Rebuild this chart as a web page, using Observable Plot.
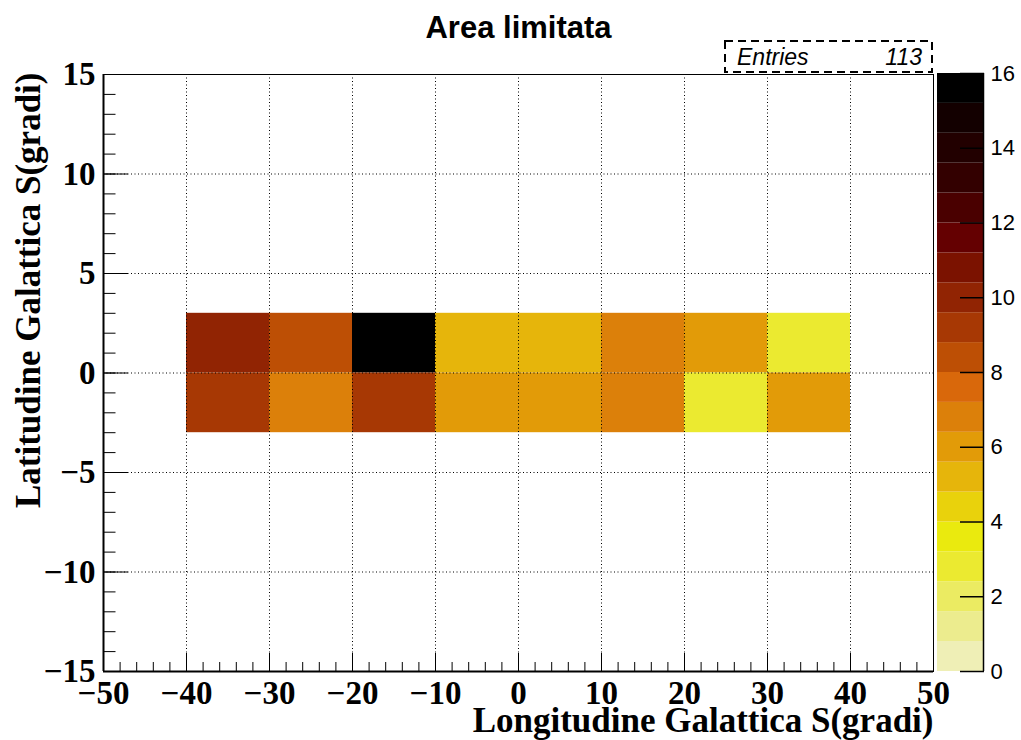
<!DOCTYPE html>
<html><head><meta charset="utf-8">
<script src="https://cdn.jsdelivr.net/npm/d3@7"></script>
<script src="https://cdn.jsdelivr.net/npm/@observablehq/plot@0.6"></script>
<style>
body{margin:0;background:#fff;}
#wrap{position:relative;width:1021px;height:740px;overflow:hidden;background:#fff;}
#wrap svg{position:absolute;top:0;}
</style></head><body><div id="wrap"></div>
<script>
// ---- data ----
const title = "Area limitata";
const xTitle = "Longitudine Galattica S(gradi)";
const yTitle = "Latitudine Galattica S(gradi)";
const xDomain = [-50, 50];
const yDomain = [-15, 15];
const xBinStarts = [-40, -30, -20, -10, 0, 10, 20, 30];
const xBinWidth = 10;
const upperRow = [0, 3];   // latitude bin [0,3]
const lowerRow = [-3, 0];  // latitude bin [-3,0]
const countsUpper = [10, 8, 16, 5, 5, 7, 6, 3];
const countsLower = [9, 7, 9, 6, 6, 7, 3, 6];
const entries = 113;
const xTicks = [-50, -40, -30, -20, -10, 0, 10, 20, 30, 40, 50];
const xMinorTicks = d3.range(-50, 51, 2);
const yTicks = [-15, -10, -5, 0, 5, 10, 15];
const yMinorTicks = d3.range(-15, 16, 1);
const zMax = 16;
const zLevels = d3.range(1, 20).map(i => i * zMax / 20);
const zTicks = [0, 2, 4, 6, 8, 10, 12, 14, 16];
const palette = ["#efefb6","#ecec8e","#ebeb62","#ebea30","#eaea0e","#e9d20c","#e6b50b","#e29b08",
  "#dc800a","#d9680b","#bd4f05","#a73804","#912403","#7b1200","#640001","#4a0000","#330000","#220000","#130000","#000000"];

// ---- build ----
const cells = [];
xBinStarts.forEach((x0, i) => {
  cells.push({x1: x0, x2: x0 + xBinWidth, y1: upperRow[0], y2: upperRow[1], n: countsUpper[i]});
  cells.push({x1: x0, x2: x0 + xBinWidth, y1: lowerRow[0], y2: lowerRow[1], n: countsLower[i]});
});
const edges = [0, ...zLevels, zMax];
const bands = d3.range(20).map(i => ({lo: edges[i], hi: edges[i + 1], mid: (edges[i] + edges[i + 1]) / 2}));
const colorScale = {type: "threshold", domain: zLevels, range: palette};
const serifTick = {fontSize: 33, fontWeight: "bold", fontFamily: "Liberation Serif"};
const serifTitle = {fontSize: 35, fontWeight: "bold", fontFamily: "Liberation Serif"};

const main = Plot.plot({
  width: 1021, height: 740,
  marginLeft: 103, marginRight: 88, marginTop: 74, marginBottom: 69,
  x: {domain: xDomain, label: null},
  y: {domain: yDomain, label: null},
  color: colorScale,
  style: {background: "white", color: "black", overflow: "visible"},
  marks: [
    Plot.rect(cells, {x1: "x1", x2: "x2", y1: "y1", y2: "y2", fill: "n"}),
    Plot.gridX(xTicks.slice(1, -1), {stroke: "black", strokeOpacity: 1, strokeDasharray: "1,2.5"}),
    Plot.gridY(yTicks.slice(1, -1), {stroke: "black", strokeOpacity: 1, strokeDasharray: "1,2.5"}),
    Plot.frame({stroke: "black"}),
    Plot.ruleX([xDomain[0]], {stroke: "black", strokeWidth: 2}),
    Plot.ruleY([yDomain[0]], {stroke: "black", strokeWidth: 2}),
    Plot.axisX(xTicks, {tickSize: -18, fill: "none", label: null}),
    Plot.axisX(xMinorTicks, {tickSize: -9, fill: "none", label: null}),
    Plot.axisX(xTicks, {tickSize: 0, tickPadding: 9, label: null, ...serifTick}),
    Plot.axisY(yTicks, {tickSize: -25, fill: "none", label: null}),
    Plot.axisY(yMinorTicks, {tickSize: -12.5, fill: "none", label: null}),
    Plot.axisY(yTicks, {tickSize: 0, tickPadding: 8, label: null, ...serifTick}),
    Plot.text([title], {text: d => d, frameAnchor: "top", dy: -37, lineAnchor: "bottom",
      fontSize: 31, fontWeight: "bold", fontFamily: "Liberation Sans"}),
    Plot.text([xTitle], {text: d => d, frameAnchor: "bottom-right", textAnchor: "end", lineAnchor: "bottom", dy: 60, ...serifTitle}),
    Plot.text([yTitle], {text: d => d, frameAnchor: "top-left", rotate: -90, textAnchor: "end", lineAnchor: "bottom", dx: -64, dy: -2, ...serifTitle})
  ]
});
document.getElementById("wrap").appendChild(main);

// stats box
const svg = d3.select(main);
const box = svg.append("g").attr("text-anchor", "start");
box.append("rect").attr("x", 725).attr("y", 41).attr("width", 207).attr("height", 31)
  .attr("fill", "white").attr("stroke", "black").attr("stroke-width", 2).attr("stroke-dasharray", "8,5");
box.append("text").attr("x", 737).attr("y", 65).attr("text-anchor", "start").attr("font-family", "Liberation Sans").attr("font-style", "italic")
  .attr("font-size", 23).text("Entries");
box.append("text").attr("x", 922).attr("y", 65).attr("text-anchor", "end").attr("font-family", "Liberation Sans").attr("font-style", "italic")
  .attr("font-size", 23).text(String(entries));

const bar = Plot.plot({
  width: 84, height: 740,
  marginLeft: 0, marginRight: 38, marginTop: 73, marginBottom: 69,
  x: {domain: [0, 1], axis: null},
  y: {domain: [0, zMax], label: null, axis: null},
  color: colorScale,
  style: {background: "transparent", color: "black", overflow: "visible"},
  marks: [
    Plot.rect(bands, {y1: "lo", y2: "hi", fill: "mid"}),
    Plot.ruleX([1], {stroke: "black", strokeWidth: 1.5}),
    Plot.axisY(zTicks, {anchor: "right", tickSize: -24, fill: "none", label: null, strokeWidth: 1.5}),
    Plot.axisY(zTicks, {anchor: "right", tickSize: 0, tickPadding: 7, label: null,
      fontSize: 22, fontFamily: "Liberation Sans"})
  ]
});
bar.style.left = "937px";
document.getElementById("wrap").appendChild(bar);
</script></body></html>
